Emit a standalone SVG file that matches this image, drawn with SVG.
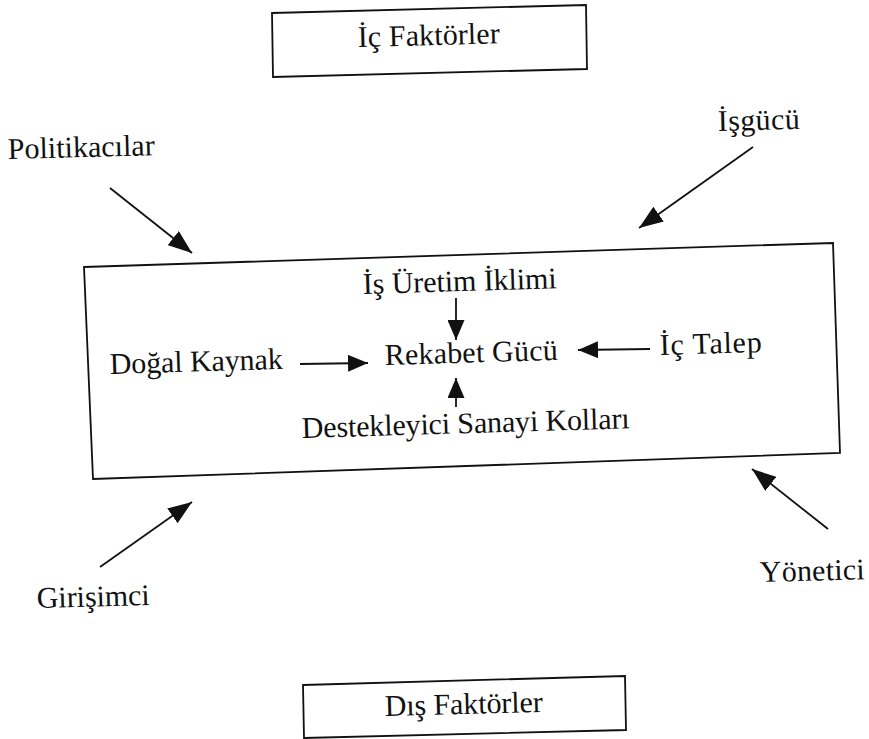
<svg xmlns="http://www.w3.org/2000/svg" width="869" height="739" viewBox="0 0 869 739">
  <style>
    text { font-family: "Liberation Serif", "Times New Roman", serif; font-size: 30px; fill: #111; }
    .box { fill: none; stroke: #111; stroke-width: 1.8; stroke-linejoin: miter; }
    .conn line { stroke: #111; stroke-width: 1.8; }
    .big { marker-end: url(#headBig); }
    .small { marker-end: url(#headSmall); }
  </style>
  <defs>
    <marker id="headBig" viewBox="0 0 24 18" refX="24" refY="9" markerWidth="24" markerHeight="18" markerUnits="userSpaceOnUse" orient="auto">
      <path d="M0,0 L24,9 L0,18 z" fill="#111"/>
    </marker>
    <marker id="headSmall" viewBox="0 0 20 17" refX="20" refY="8.5" markerWidth="20" markerHeight="17" markerUnits="userSpaceOnUse" orient="auto">
      <path d="M0,0 L20,8.5 L0,17 z" fill="#111"/>
    </marker>
  </defs>

  <g id="ic-faktorler">
    <polygon class="box" points="272,13 586,5 587,69 273,77"/>
    <text x="358" y="47" textLength="142" lengthAdjust="spacing" transform="rotate(-1.5 358 47)">İç Faktörler</text>
  </g>

  <g id="main-frame">
    <polygon class="box" points="84,267 833,243 840,453 93,479"/>
  </g>

  <g id="politikacilar">
    <text x="8" y="159" textLength="147" lengthAdjust="spacing" transform="rotate(-1.5 8 159)">Politikacılar</text>
  </g>
  <g id="isgucu">
    <text x="718" y="131" textLength="82" lengthAdjust="spacing" transform="rotate(-1.5 718 131)">İşgücü</text>
  </g>
  <g id="is-uretim-iklimi">
    <text x="363" y="294" textLength="194" lengthAdjust="spacing" transform="rotate(-1.7 363 294)">İş Üretim İklimi</text>
  </g>
  <g id="dogal-kaynak">
    <text x="110" y="374" textLength="173" lengthAdjust="spacing" transform="rotate(-1.7 110 374)">Doğal Kaynak</text>
  </g>
  <g id="rekabet-gucu">
    <text x="385" y="365" textLength="173" lengthAdjust="spacing" transform="rotate(-1.7 385 365)">Rekabet Gücü</text>
  </g>
  <g id="ic-talep">
    <text x="660" y="355" textLength="102" lengthAdjust="spacing" transform="rotate(-1.7 660 355)">İç Talep</text>
  </g>
  <g id="destekleyici">
    <text x="302" y="438" textLength="328" lengthAdjust="spacing" transform="rotate(-1.7 302 438)">Destekleyici Sanayi Kolları</text>
  </g>
  <g id="girisimci">
    <text x="37" y="608" textLength="113" lengthAdjust="spacing" transform="rotate(-1.5 37 608)">Girişimci</text>
  </g>
  <g id="yonetici">
    <text x="760" y="582" textLength="105" lengthAdjust="spacing" transform="rotate(-1.5 760 582)">Yönetici</text>
  </g>

  <g id="dis-faktorler">
    <polygon class="box" points="303,685 625,676 626,730 304,738"/>
    <text x="385" y="716" textLength="158" lengthAdjust="spacing" transform="rotate(-1.5 385 716)">Dış Faktörler</text>
  </g>

  <g id="connectors" class="conn">
    <line class="big" x1="110" y1="188" x2="192" y2="253"/>
    <line class="big" x1="753" y1="147" x2="639" y2="228"/>
    <line class="big" x1="100" y1="567" x2="192" y2="502"/>
    <line class="big" x1="828" y1="529" x2="752" y2="469"/>
    <line class="small" x1="456" y1="298" x2="456" y2="340"/>
    <line class="small" x1="456" y1="407" x2="456" y2="378"/>
    <line class="small" x1="300" y1="364" x2="368" y2="363"/>
    <line class="small" x1="650" y1="349" x2="578" y2="350"/>
  </g>
</svg>
